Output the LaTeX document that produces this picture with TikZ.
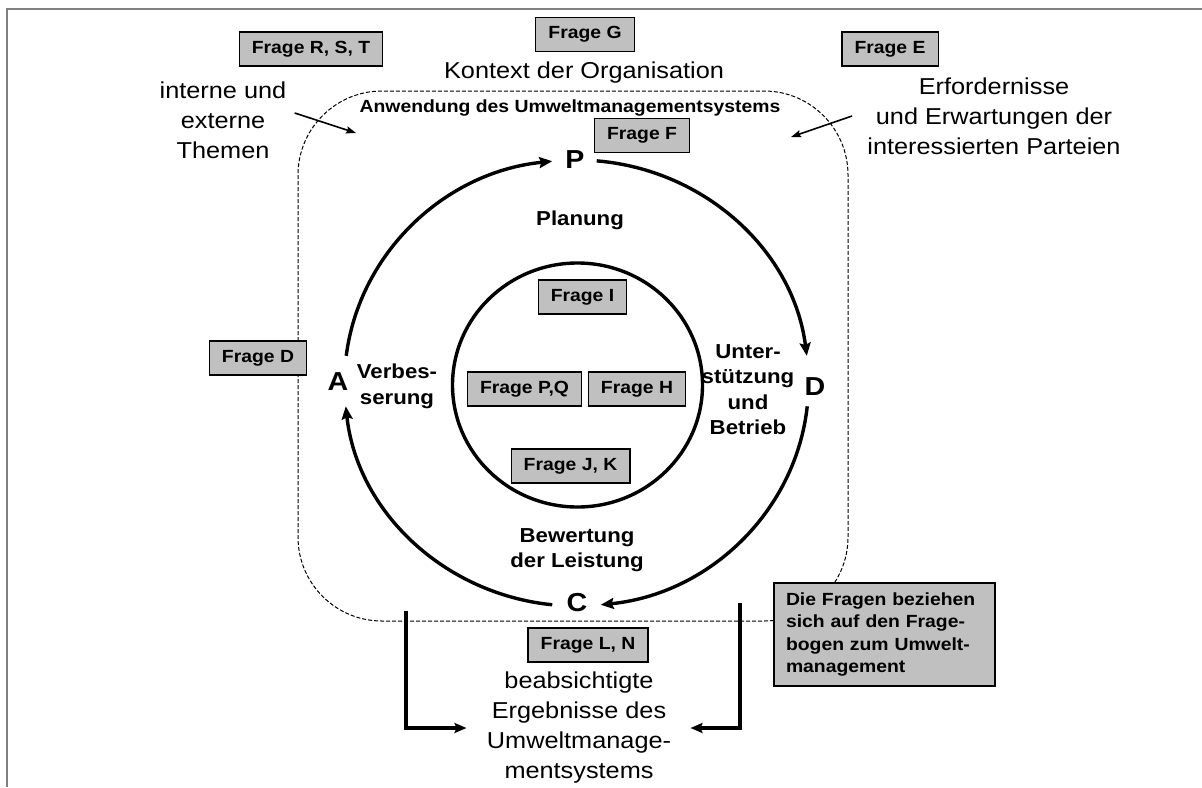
\documentclass[tikz,border=0pt]{standalone}
\usepackage{fontspec}
\setmainfont{Liberation Sans}[FakeStretch=1.1]
\usetikzlibrary{arrows.meta}
\definecolor{boxgray}{HTML}{C0C0C0}
\definecolor{framegray}{HTML}{808080}

\begin{document}
\begin{tikzpicture}[x=0.5pt,y=0.5pt,
  frage/.style={draw,fill=boxgray,line width=0.6pt,inner xsep=6.3pt,inner ysep=0pt,minimum height=17pt,font=\fontsize{8.8pt}{11.2pt}\selectfont\bfseries},
  hinweis/.style={draw,fill=boxgray,line width=0.6pt,align=left,text width=98.5pt,minimum height=51.5pt,inner xsep=6pt,font=\fontsize{8.8pt}{11.2pt}\selectfont\bfseries},
  txt/.style={align=center,inner sep=1pt,font=\fontsize{11.5pt}{15pt}\selectfont},
  lbl/.style={align=center,inner sep=1pt,font=\fontsize{10.1pt}{12.7pt}\selectfont\bfseries},
  pdca/.style={inner sep=1pt,font=\fontsize{13pt}{14pt}\selectfont\bfseries},
  cyc/.style={-{Stealth[length=6.5pt,width=5.5pt,inset=1pt]},line width=1.7pt},
  brk/.style={-{Stealth[length=6pt,width=5pt,inset=1pt]},line width=1.6pt},
  thinarr/.style={-{Stealth[length=5pt,width=3.6pt,inset=0.8pt]},line width=0.8pt}]
\useasboundingbox (0,0) rectangle (1202,-787);
\draw[framegray,line width=1pt] (7,-787) -- (7,-9) -- (1202,-9);
\draw[line width=0.5pt,dash pattern=on 2pt off 1pt,rounded corners=42pt] (298,-91) rectangle (848,-621);

\coordinate (ctr) at (576.5,-383);
\draw[line width=1.7pt] (577.5,-385) ellipse[x radius=125,y radius=122];

\node[pdca] (P) at (575,-160) {P};
\node[pdca] (D) at (815,-387) {D};
\node[pdca] (C) at (577,-603) {C};
\node[pdca] (A) at (338,-382) {A};
\draw[cyc] ([shift={(173:232 and 223)}]ctr) arc[start angle=173,end angle=96,x radius=232,y radius=223];
\draw[cyc] ([shift={(85:232 and 223)}]ctr) arc[start angle=85,end angle=7,x radius=232,y radius=223];
\draw[cyc] ([shift={(-6:232 and 223)}]ctr) arc[start angle=-6,end angle=-84,x radius=232,y radius=223];
\draw[cyc] ([shift={(-96:232 and 223)}]ctr) arc[start angle=-96,end angle=-174,x radius=232,y radius=223];

\node[frage] (frst) at (311,-49) {Frage R, S, T};
\node[frage] (frg) at (585,-34.5) {Frage G};
\node[frage] (fre) at (890,-49) {Frage E};
\node[frage] (frf) at (642,-135.5) {Frage F};
\node[frage] (frd) at (258,-358) {Frage D};
\node[frage] (fri) at (582.5,-297) {Frage I};
\node[frage] (frpq) at (524.5,-389) {Frage P,Q};
\node[frage] (frh) at (637,-389) {Frage H};
\node[frage] (frjk) at (570.5,-466) {Frage J, K};
\node[frage] (frln) at (588,-645) {Frage L, N};

\node[txt] (kontext) at (584,-73) {Kontext der Organisation};
\node[txt] (intern) at (223,-120) {interne und\\externe\\Themen};
\node[txt] (erford) at (994,-116) {Erfordernisse\\und Erwartungen der\\interessierten Parteien};
\node[txt] (res) at (579,-728) {beabsichtigte\\Ergebnisse des\\Umweltmanage-\\mentsystems};
\node[lbl,font=\fontsize{8.8pt}{11pt}\selectfont\bfseries] (anw) at (570,-108) {Anwendung des Umweltmanagementsystems};
\node[lbl] (plan) at (580,-220) {Planung};
\node[lbl] (verb) at (397,-386.5) {Verbes-\\serung};
\node[lbl] (unter) at (748,-389.5) {Unter-\\stützung\\und\\Betrieb};
\node[lbl] (bew) at (577,-550) {Bewertung\\der Leistung};

\coordinate (intin) at (356,-133);
\coordinate (erfin) at (791,-137);
\draw[thinarr] ([xshift=3pt,yshift=3.5pt]intern.east) -- (intin);
\draw[thinarr] ([xshift=-6.5pt]erford.west) -- (erfin);

\coordinate (lbtop) at (406,-611);
\coordinate (rbtop) at (740,-603);
\draw[brk] (lbtop) |- ([xshift=-9pt]res.west);
\draw[brk] (rbtop) |- ([xshift=8.5pt]res.east);

\node[hinweis] (note) at (884.5,-634.5) {Die Fragen beziehen\\sich auf den Frage-\\bogen zum Umwelt-\\management};
\end{tikzpicture}
\end{document}
